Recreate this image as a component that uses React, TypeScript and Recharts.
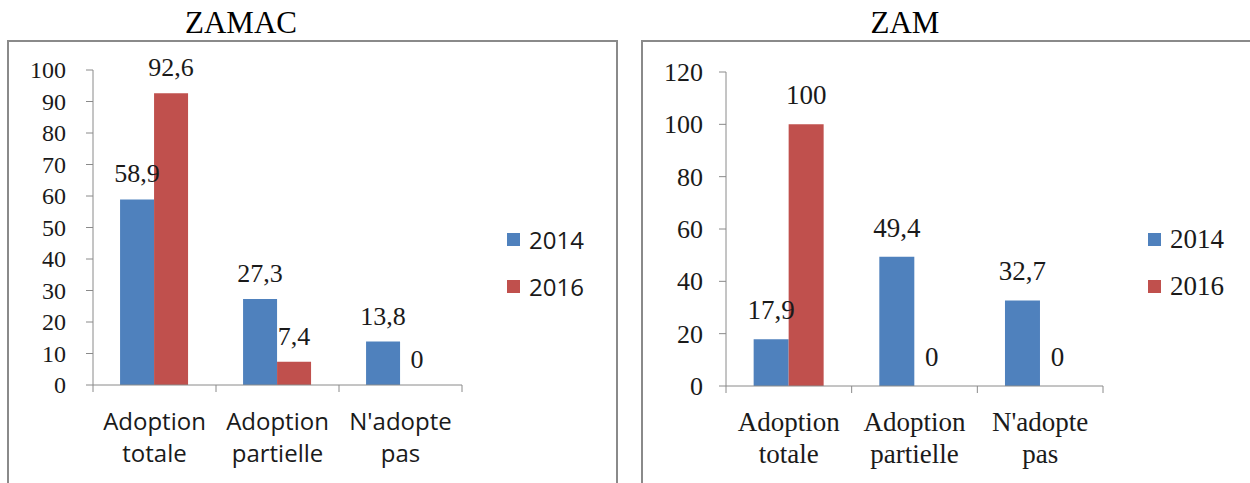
import { BarChart, Bar, XAxis, YAxis, Legend, LabelList } from "recharts";

const categories = ["Adoption totale", "Adoption partielle", "N'adopte pas"];
const zamac2014 = [58.9, 27.3, 13.8];
const zamac2016 = [92.6, 7.4, 0];
const zam2014 = [17.9, 49.4, 32.7];
const zam2016 = [100, 0, 0];
const zamacTicks = [0, 10, 20, 30, 40, 50, 60, 70, 80, 90, 100];
const zamTicks = [0, 20, 40, 60, 80, 100, 120];

const BLUE = "#4F81BD";
const RED = "#C0504D";
const GREY = "#8a8a8a";
const INK = "#1a1a1a";
const SERIF = "Liberation Serif";
const SANS = "Open Sans";

const toRows = (a: number[], b: number[]) =>
  categories.map((name, i) => ({ name, y2014: a[i], y2016: b[i] }));

const comma = (v: any) => String(v).replace(".", ",");

function CategoryTick(props: any) {
  const { x, y, payload, index, font, size } = props;
  const half = payload.offset ?? 62;
  const [first, ...rest] = String(payload.value).split(" ");
  const last = index === categories.length - 1;
  return (
    <g>
      <line x1={x - half} x2={x - half} y1={y} y2={y + 7} stroke={GREY} />
      {last && <line x1={x + half} x2={x + half} y1={y} y2={y + 7} stroke={GREY} />}
      <text x={x} y={y} textAnchor="middle" style={{ fontFamily: font, fontSize: size, fill: INK }}>
        <tspan x={x} dy={45}>{first}</tspan>
        <tspan x={x} dy={32}>{rest.join(" ")}</tspan>
      </text>
    </g>
  );
}

function ValueTick(props: any) {
  const { x, y, payload, size } = props;
  return (
    <text x={x} y={y} dy="0.34em" textAnchor="end" style={{ fontFamily: SERIF, fontSize: size, fill: INK }}>
      {payload.value}
    </text>
  );
}

function BarValue(props: any) {
  const { x, y, width, value, size, gap } = props;
  return (
    <text
      x={Number(x) + Number(width) / 2}
      y={Number(y) - gap}
      textAnchor="middle"
      style={{ fontFamily: SERIF, fontSize: size, fill: INK }}
    >
      {comma(value)}
    </text>
  );
}

const legendContent = (font: string, size: number) => (props: any) => (
  <div>
    {(props.payload || []).map((e: any) => (
      <div key={e.value} style={{ display: "flex", alignItems: "center", height: 47 }}>
        <span style={{ width: 13, height: 13, background: e.color, marginRight: 9 }} />
        <span style={{ fontFamily: font, fontSize: size, color: INK, lineHeight: 1 }}>{e.value}</span>
      </div>
    ))}
  </div>
);

interface PanelProps {
  x: number;
  title: string;
  titleX: number;
  box: { left: number; width: number };
  data: { name: string; y2014: number; y2016: number }[];
  ticks: number[];
  axisWidth: number;
  tickSize: number;
  tickGap: number;
  top: number;
  right: number;
  xHeight: number;
  xFont: string;
  xSize: number;
  labelSize: number;
  labelGap: number;
  legendFont: string;
  legendSize: number;
  legendLeft: number;
}

function Panel(p: PanelProps) {
  const label = (l: any) => <BarValue {...l} size={p.labelSize} gap={p.labelGap} />;
  return (
    <>
      <div
        style={{
          position: "absolute",
          left: p.box.left,
          top: 40,
          width: p.box.width,
          height: 600,
          border: `2px solid ${GREY}`,
          boxSizing: "border-box",
        }}
      />
      <div
        style={{
          position: "absolute",
          left: p.titleX - 150,
          width: 300,
          top: 7,
          textAlign: "center",
          fontFamily: SERIF,
          fontSize: 31,
          lineHeight: "31px",
          color: "#000",
        }}
      >
        {p.title}
      </div>
      <div style={{ position: "absolute", left: p.x, top: 0, fontFamily: SERIF }}>
        <BarChart
          width={625}
          height={483}
          data={p.data}
          margin={{ top: p.top, right: p.right, left: 0, bottom: 0 }}
          barCategoryGap="22%"
          barGap={0}
        >
          <XAxis
            dataKey="name"
            height={p.xHeight}
            tickLine={false}
            tickSize={0}
            tickMargin={0}
            axisLine={{ stroke: GREY }}
            interval={0}
            tick={(t: any) => <CategoryTick {...t} font={p.xFont} size={p.xSize} />}
          />
          <YAxis
            width={p.axisWidth}
            domain={[0, p.ticks[p.ticks.length - 1]]}
            ticks={p.ticks}
            interval={0}
            tickSize={7}
            tickMargin={p.tickGap}
            axisLine={{ stroke: GREY }}
            tickLine={{ stroke: GREY }}
            tick={(t: any) => <ValueTick {...t} size={p.tickSize} />}
          />
          <Legend
            layout="vertical"
            align="center"
            verticalAlign="middle"
            wrapperStyle={{ left: p.legendLeft, top: 216, width: 110 }}
            content={legendContent(p.legendFont, p.legendSize)}
          />
          <Bar dataKey="y2014" name="2014" fill={BLUE} minPointSize={0.01} isAnimationActive={false}>
            <LabelList dataKey="y2014" content={label} />
          </Bar>
          <Bar dataKey="y2016" name="2016" fill={RED} minPointSize={0.01} isAnimationActive={false}>
            <LabelList dataKey="y2016" content={label} />
          </Bar>
        </BarChart>
      </div>
    </>
  );
}

export default function App() {
  return (
    <div
      style={{
        position: "absolute",
        left: 0,
        top: 0,
        width: 1250,
        height: 483,
        overflow: "hidden",
        background: "#fff",
      }}
    >
      <Panel
        x={0}
        title="ZAMAC"
        titleX={241}
        box={{ left: 7, width: 611 }}
        data={toRows(zamac2014, zamac2016)}
        ticks={zamacTicks}
        axisWidth={93}
        tickSize={24}
        tickGap={20}
        top={70}
        right={163}
        xHeight={98}
        xFont={SANS}
        xSize={24}
        labelSize={26}
        labelGap={17}
        legendFont={SANS}
        legendSize={24}
        legendLeft={507}
      />
      <Panel
        x={625}
        title="ZAM"
        titleX={905}
        box={{ left: 641, width: 700 }}
        data={toRows(zam2014, zam2016)}
        ticks={zamTicks}
        axisWidth={101}
        tickSize={26}
        tickGap={16}
        top={72}
        right={147}
        xHeight={97}
        xFont={SERIF}
        xSize={27}
        labelSize={27}
        labelGap={20}
        legendFont={SERIF}
        legendSize={27}
        legendLeft={523}
      />
    </div>
  );
}
